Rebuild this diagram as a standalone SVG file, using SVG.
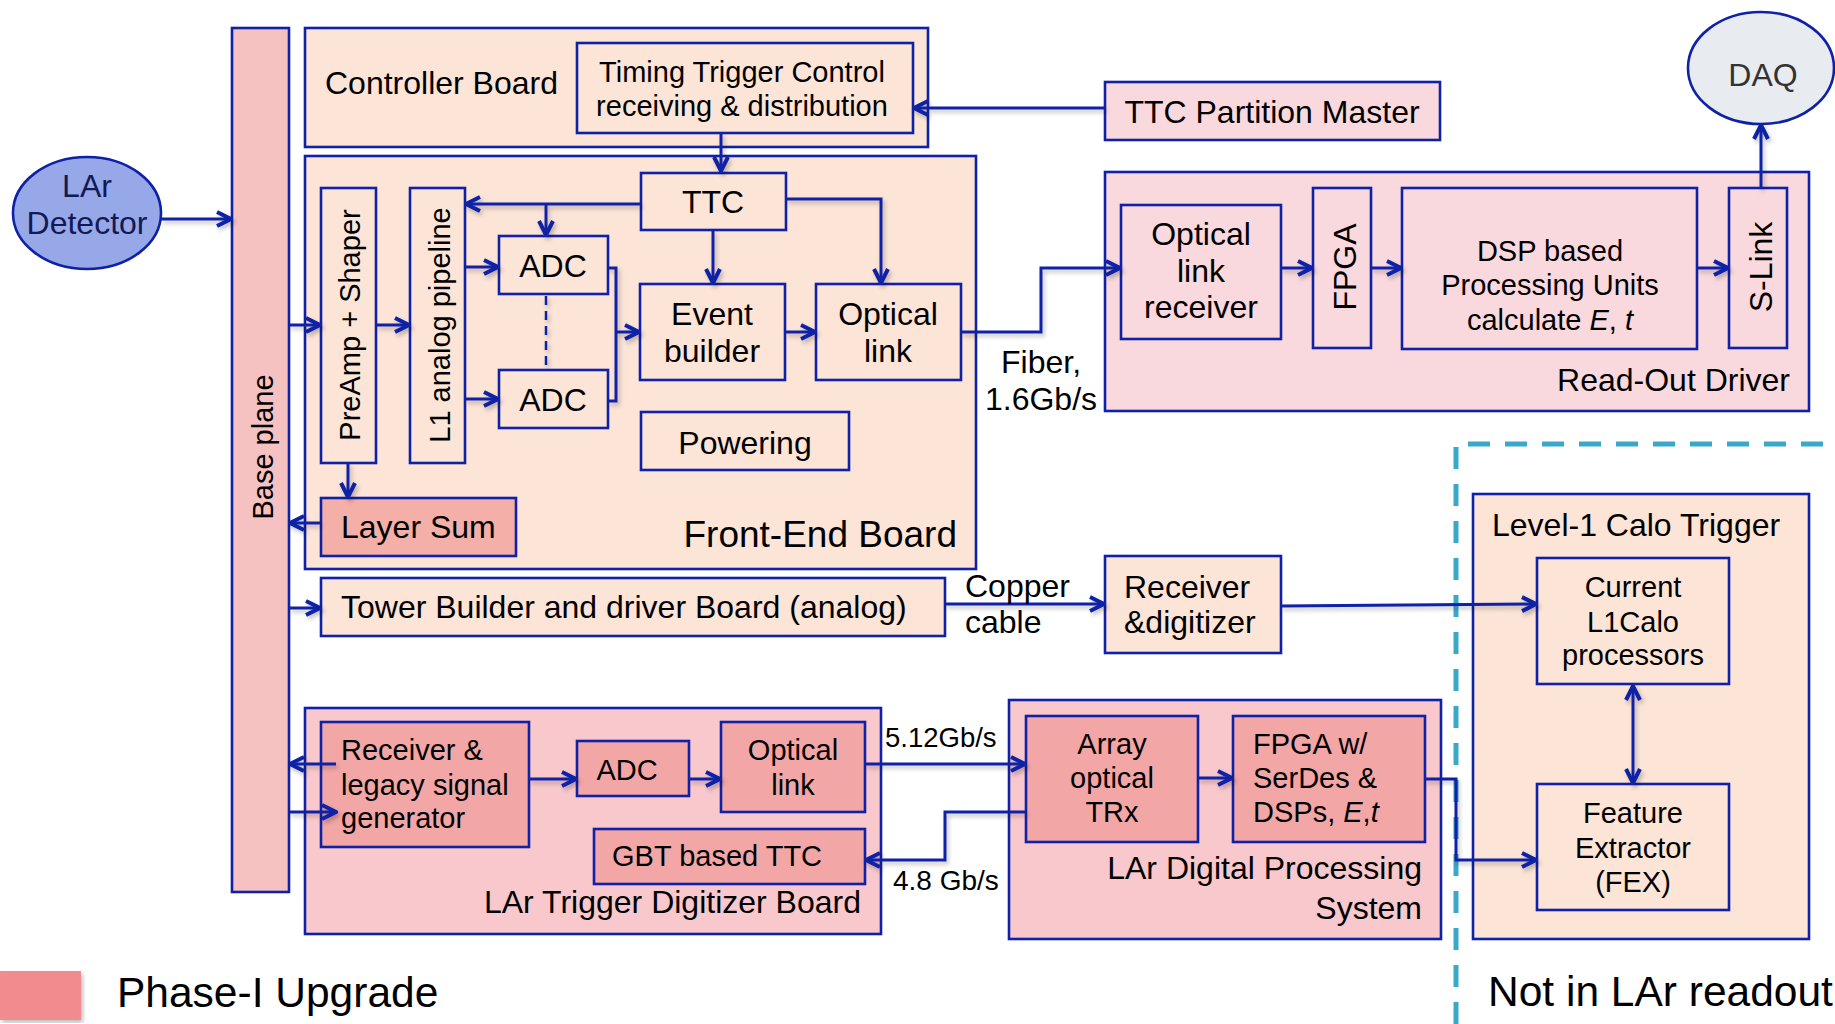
<svg xmlns="http://www.w3.org/2000/svg" width="1835" height="1024" viewBox="0 0 1835 1024">
<defs>
<style>
.b{stroke:#0f21a6;stroke-width:2.6}
.pe{fill:#fce4d7}
.pk{fill:#f9d9dd}
.pm{fill:#f8c8cc}
.up{fill:#f2a6a6}
.t{font-family:"Liberation Sans",Arial,sans-serif;font-size:32px;fill:#000}
.s{font-size:29px}
.m{text-anchor:middle}
.e{text-anchor:end}
.c{fill:none;stroke:#0f21a6;stroke-width:3}
.a{marker-end:url(#ah)}
</style>
<marker id="ah" viewBox="0 0 20 20" refX="18" refY="10" markerWidth="20" markerHeight="20" markerUnits="userSpaceOnUse" orient="auto-start-reverse">
<path d="M4,3 L18,10 L4,17" fill="none" stroke="#0f21a6" stroke-width="4"/>
</marker>
<filter id="sh" x="-5%" y="-5%" width="110%" height="110%">
<feDropShadow dx="2" dy="3" stdDeviation="2" flood-color="#000" flood-opacity="0.25"/>
</filter>
</defs>
<rect width="1835" height="1024" fill="#fff"/>

<g id="lar-detector">
<ellipse cx="87" cy="213" rx="74" ry="56" fill="#97a8e9" class="b"/>
<text class="t m" x="87" y="197" style="fill:#111a55">LAr</text>
<text class="t m" x="87" y="234" style="fill:#111a55">Detector</text>
</g>

<g id="base-plane">
<rect x="232" y="28" width="57" height="864" fill="#f6c1c1" class="b"/>
<text class="t s m" transform="translate(273,447) rotate(-90)">Base plane</text>
</g>

<g id="controller-board">
<rect x="305" y="28" width="623" height="119" class="pe b"/>
<text class="t" x="325" y="94">Controller Board</text>
</g>
<g id="ttc-receiving">
<rect x="577" y="43" width="336" height="90" class="pe b"/>
<text class="t s m" x="742" y="82">Timing Trigger Control</text>
<text class="t s m" x="742" y="116">receiving &amp; distribution</text>
</g>

<g id="ttc-partition-master">
<rect x="1105" y="82" width="335" height="58" class="pk b"/>
<text class="t m" x="1272" y="123">TTC Partition Master</text>
</g>

<g id="front-end-board">
<rect x="305" y="156" width="671" height="413" class="pe b"/>
<text class="t e" x="957" y="547" style="font-size:37px">Front-End Board</text>
</g>
<g id="ttc">
<rect x="641" y="173" width="145" height="57" class="pe b"/>
<text class="t m" x="713" y="213">TTC</text>
</g>
<g id="preamp-shaper">
<rect x="321" y="188" width="55" height="275" class="pe b"/>
<text class="t s m" transform="translate(360,325) rotate(-90)">PreAmp + Shaper</text>
</g>
<g id="l1-pipeline">
<rect x="410" y="188" width="55" height="275" class="pe b"/>
<text class="t s m" transform="translate(450,325) rotate(-90)">L1 analog pipeline</text>
</g>
<g id="adc-1">
<rect x="499" y="236" width="109" height="58" class="pe b"/>
<text class="t m" x="553" y="277">ADC</text>
</g>
<g id="adc-2">
<rect x="499" y="370" width="109" height="58" class="pe b"/>
<text class="t m" x="553" y="411">ADC</text>
</g>
<g id="event-builder">
<rect x="640" y="284" width="145" height="96" class="pe b"/>
<text class="t m" x="712" y="325">Event</text>
<text class="t m" x="712" y="362">builder</text>
</g>
<g id="optical-link-feb">
<rect x="816" y="284" width="145" height="96" class="pe b"/>
<text class="t m" x="888" y="325">Optical</text>
<text class="t m" x="888" y="362">link</text>
</g>
<g id="powering">
<rect x="641" y="412" width="208" height="58" class="pe b"/>
<text class="t m" x="745" y="454">Powering</text>
</g>
<g id="layer-sum">
<rect x="321" y="498" width="195" height="58" fill="#f4b0a8" class="b"/>
<text class="t" x="341" y="538">Layer Sum</text>
</g>

<g id="tower-builder">
<rect x="321" y="578" width="624" height="58" class="pe b"/>
<text class="t" x="341" y="618">Tower Builder and driver Board (analog)</text>
</g>

<g id="receiver-digitizer">
<rect x="1105" y="556" width="176" height="97" class="pe b"/>
<text class="t" x="1124" y="598">Receiver</text>
<text class="t" x="1124" y="633">&amp;digitizer</text>
</g>

<g id="read-out-driver">
<rect x="1105" y="172" width="704" height="239" class="pk b"/>
<text class="t e" x="1790" y="391">Read-Out Driver</text>
</g>
<g id="optical-link-receiver">
<rect x="1121" y="205" width="160" height="134" class="pk b"/>
<text class="t m" x="1201" y="245">Optical</text>
<text class="t m" x="1201" y="282">link</text>
<text class="t m" x="1201" y="318">receiver</text>
</g>
<g id="fpga-rod">
<rect x="1313" y="188" width="58" height="160" class="pk b"/>
<text class="t m" transform="translate(1356,267) rotate(-90)">FPGA</text>
</g>
<g id="dsp">
<rect x="1402" y="188" width="295" height="161" class="pk b"/>
<text class="t s m" x="1550" y="261">DSP based</text>
<text class="t s m" x="1550" y="295">Processing Units</text>
<text class="t s m" x="1550" y="330">calculate <tspan font-style="italic">E</tspan>, <tspan font-style="italic">t</tspan></text>
</g>
<g id="s-link">
<rect x="1729" y="188" width="58" height="160" class="pk b"/>
<text class="t m" transform="translate(1772,267) rotate(-90)">S-Link</text>
</g>

<g id="daq">
<ellipse cx="1761" cy="68" rx="73" ry="56" fill="#e8ecf1" class="b"/>
<text class="t m" x="1763" y="86" style="fill:#333">DAQ</text>
</g>

<g id="level1-calo">
<rect x="1473" y="494" width="336" height="445" class="pe b"/>
<text class="t" x="1492" y="536">Level-1 Calo Trigger</text>
</g>
<g id="l1calo-processors">
<rect x="1537" y="558" width="192" height="126" class="pe b"/>
<text class="t s m" x="1633" y="597">Current</text>
<text class="t s m" x="1633" y="632">L1Calo</text>
<text class="t s m" x="1633" y="665">processors</text>
</g>
<g id="fex">
<rect x="1537" y="784" width="192" height="126" class="pe b"/>
<text class="t s m" x="1633" y="823">Feature</text>
<text class="t s m" x="1633" y="858">Extractor</text>
<text class="t s m" x="1633" y="892">(FEX)</text>
</g>

<g id="ltdb">
<rect x="305" y="708" width="576" height="226" class="pm b"/>
<text class="t e" x="861" y="913">LAr Trigger Digitizer Board</text>
</g>
<g id="receiver-legacy">
<rect x="321" y="722" width="208" height="125" class="up b"/>
<text class="t s" x="341" y="760">Receiver &amp;</text>
<text class="t s" x="341" y="795">legacy signal</text>
<text class="t s" x="341" y="828">generator</text>
</g>
<g id="adc-ltdb">
<rect x="577" y="741" width="112" height="55" class="up b"/>
<text class="t s m" x="627" y="780">ADC</text>
</g>
<g id="optical-link-ltdb">
<rect x="721" y="722" width="144" height="90" class="up b"/>
<text class="t s m" x="793" y="760">Optical</text>
<text class="t s m" x="793" y="795">link</text>
</g>
<g id="gbt-ttc">
<rect x="594" y="829" width="271" height="55" class="up b"/>
<text class="t s" x="612" y="866">GBT based TTC</text>
</g>

<g id="ldps">
<rect x="1009" y="700" width="432" height="239" class="pm b"/>
<text class="t e" x="1422" y="879">LAr Digital Processing</text>
<text class="t e" x="1422" y="919">System</text>
</g>
<g id="array-trx">
<rect x="1026" y="716" width="172" height="126" class="up b"/>
<text class="t s m" x="1112" y="754">Array</text>
<text class="t s m" x="1112" y="788">optical</text>
<text class="t s m" x="1112" y="822">TRx</text>
</g>
<g id="fpga-serdes">
<rect x="1233" y="716" width="192" height="126" class="up b"/>
<text class="t s" x="1253" y="754">FPGA w/</text>
<text class="t s" x="1253" y="788">SerDes &amp;</text>
<text class="t s" x="1253" y="822">DSPs, <tspan font-style="italic">E</tspan>,<tspan font-style="italic">t</tspan></text>
</g>

<g id="boundary">
<path d="M1456,1024 V444 H1835" fill="none" stroke="#3aa9c9" stroke-width="5" stroke-dasharray="22 15"/>
<text class="t" x="1488" y="1006" style="font-size:42.5px">Not in LAr readout</text>
</g>

<g id="legend">
<rect x="0" y="971" width="81" height="49" fill="#f28b8d" filter="url(#sh)"/>
<text class="t" x="117" y="1007" style="font-size:42.5px">Phase-I Upgrade</text>
</g>

<g id="connectors" filter="url(#sh)">
<path class="c a" d="M161,219 H231"/>
<path class="c a" d="M1105,108 H914"/>
<path class="c a" d="M721,133 V171"/>
<path class="c a" d="M641,204 H466"/>
<path class="c a" d="M546,204 V235"/>
<path class="c a" d="M713,230 V283"/>
<path class="c a" d="M786,199 H881 V283"/>
<path class="c a" d="M289,325 H320"/>
<path class="c a" d="M376,325 H409"/>
<path class="c a" d="M465,267 H498"/>
<path class="c a" d="M465,399 H498"/>
<path d="M546,296 V369" fill="none" stroke="#0f21a6" stroke-width="2.5" stroke-dasharray="9 6"/>
<path class="c" d="M608,268 H616 V401 H608"/>
<path class="c a" d="M616,332 H639"/>
<path class="c a" d="M785,332 H815"/>
<path class="c a" d="M961,332 H1041 V268 H1120"/>
<path class="c a" d="M348,463 V497"/>
<path class="c a" d="M320,523 H290"/>
<path class="c a" d="M289,608 H320"/>
<path class="c a" d="M945,604 H1104"/>
<path class="c a" d="M1281,606 L1536,604"/>
<path class="c a" d="M1281,268 H1312"/>
<path class="c a" d="M1371,268 H1401"/>
<path class="c a" d="M1697,268 H1728"/>
<path class="c a" d="M1761,188 V125"/>
<path class="c a" d="M1633,686 V783" style="marker-start:url(#ah)"/>
<path class="c a" d="M336,764 H290"/>
<path class="c a" d="M289,812 H336"/>
<path class="c a" d="M529,779 H576"/>
<path class="c a" d="M689,779 H720"/>
<path class="c a" d="M865,764 H1025"/>
<path class="c a" d="M1026,812 H945 V860 H866"/>
<path class="c a" d="M1198,778 H1232"/>
<path class="c a" d="M1425,779 H1456 V860 H1536"/>
</g>

<g id="connector-labels">
<text class="t m" x="1041" y="373">Fiber,</text>
<text class="t m" x="1041" y="410">1.6Gb/s</text>
<text class="t" x="965" y="597">Copper</text>
<text class="t" x="965" y="633">cable</text>
<text class="t" x="885" y="747" style="font-size:27.5px">5.12Gb/s</text>
<text class="t" x="893" y="890" style="font-size:28px">4.8 Gb/s</text>
</g>
</svg>
